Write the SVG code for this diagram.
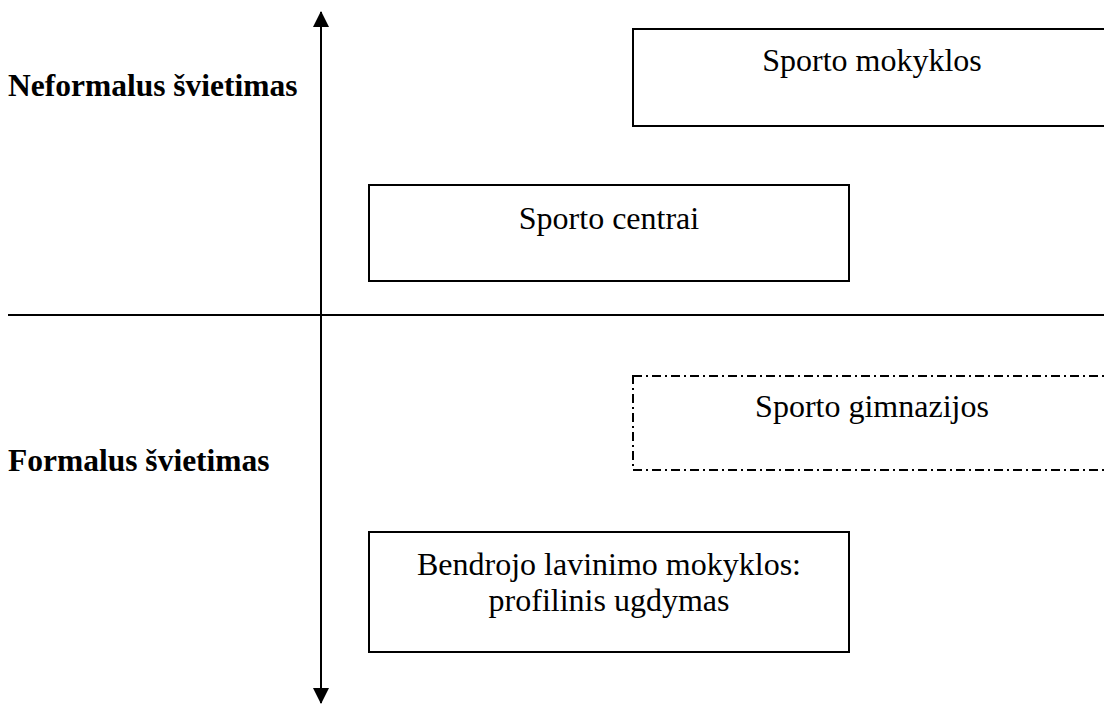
<svg xmlns="http://www.w3.org/2000/svg" width="1104" height="704" viewBox="0 0 1104 704">
<style>
.box{fill:#fff;stroke:#000;stroke-width:2}
.dash{stroke-dasharray:9 4 2 4}
.t{font-family:"Liberation Serif","Times New Roman",serif;font-size:32px;fill:#000;text-anchor:middle}
.lb{font-family:"Liberation Serif","Times New Roman",serif;font-size:31.5px;font-weight:bold;fill:#000}
.ax{stroke:#000;stroke-width:2;fill:none}
</style>
<defs>
<marker id="ah" viewBox="0 0 16 16" refX="15" refY="8" markerWidth="16" markerHeight="16" markerUnits="userSpaceOnUse" orient="auto-start-reverse">
<path d="M0,0 L16,8 L0,16 Z" fill="#000"/>
</marker>
</defs>
<rect width="1104" height="704" fill="#fff"/>
<g id="connectors">
<line class="ax" x1="8" y1="315" x2="1104" y2="315"/>
<line class="ax" x1="321" y1="12" x2="321" y2="703" marker-start="url(#ah)" marker-end="url(#ah)"/>
</g>
<g id="label-neformalus"><text class="lb" x="8" y="96">Neformalus švietimas</text></g>
<g id="label-formalus"><text class="lb" x="8" y="471">Formalus švietimas</text></g>
<g id="sporto-mokyklos">
<rect class="box" x="633" y="29" width="480" height="97"/>
<text class="t" x="872" y="71">Sporto mokyklos</text>
</g>
<g id="sporto-centrai">
<rect class="box" x="369" y="185" width="480" height="96"/>
<text class="t" x="609" y="229">Sporto centrai</text>
</g>
<g id="sporto-gimnazijos">
<rect class="box dash" x="633" y="376" width="480" height="94"/>
<text class="t" x="872" y="417">Sporto gimnazijos</text>
</g>
<g id="bendrojo">
<rect class="box" x="369" y="532" width="480" height="120"/>
<text class="t" x="609" y="575">Bendrojo lavinimo mokyklos:</text>
<text class="t" x="609" y="611">profilinis ugdymas</text>
</g>
</svg>
